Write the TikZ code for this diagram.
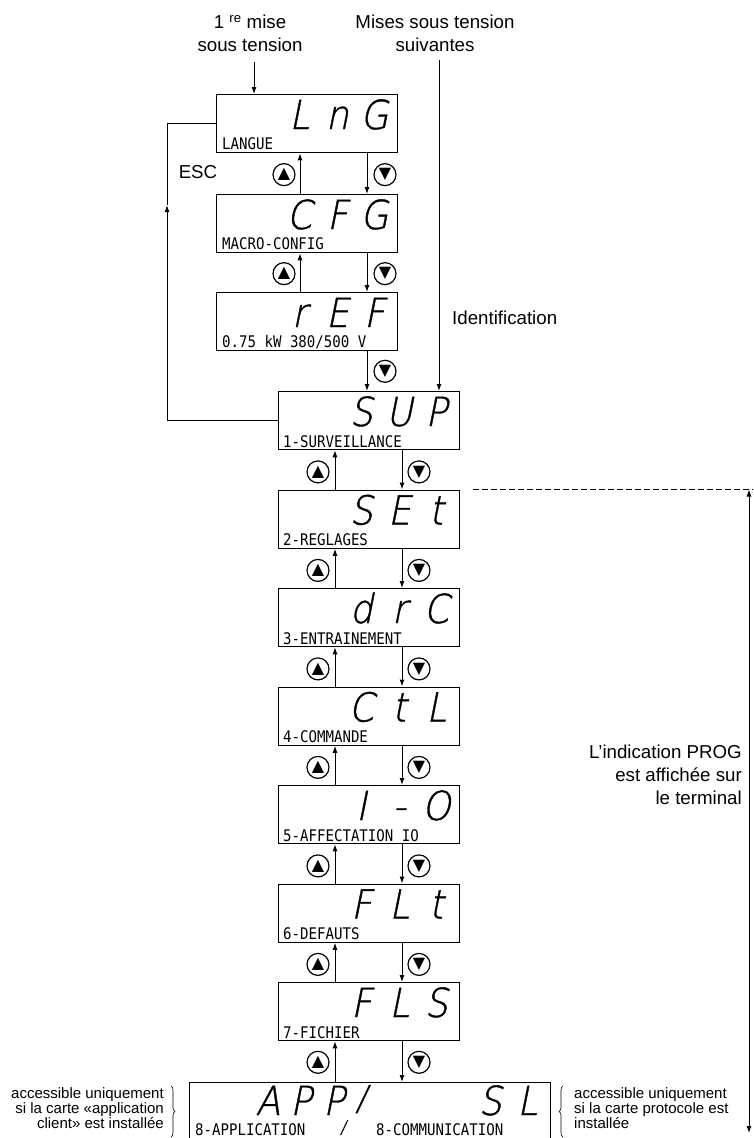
\documentclass[tikz,border=0pt]{standalone}
\usepackage{fontspec}
\setmainfont{Liberation Sans}
\newfontfamily\lcdfont[FakeStretch=0.88]{DejaVu Sans Mono}
\IfFontExistsTF{DejaVu Sans ExtraLight}
  {\newfontfamily\segfont[FakeSlant=0.2,FakeStretch=0.9,FakeBold=1]{DejaVu Sans ExtraLight}}
  {\newfontfamily\segfont[FakeSlant=0.2,FakeStretch=0.9]{DejaVu Sans}}
\newfontfamily\symfont{DejaVu Sans}
\usetikzlibrary{arrows.meta,calc,decorations.pathreplacing}

\tikzset{
  lcd/.style={draw,line width=1.3pt,minimum width=181pt,minimum height=58pt,inner sep=0pt,anchor=north west},
  lcdlabel/.style={anchor=base west,inner sep=0pt,font=\lcdfont\fontsize{16}{16}\selectfont},
  seg/.style={anchor=base,inner sep=0pt,font=\segfont\fontsize{40}{40}\selectfont},
  btn/.style={circle,draw,line width=1.2pt,minimum size=22pt,inner sep=0pt,font=\symfont\fontsize{16}{16}\selectfont},
  arr/.style={line width=1pt,-{Latex[length=7pt,width=5pt]}},
  lbl/.style={font=\fontsize{18.7}{23}\selectfont,align=center,inner sep=0pt},
  note/.style={font=\fontsize{15}{15}\selectfont,inner sep=0pt},
}

\begin{document}
\begin{tikzpicture}[x=1pt,y=-1pt]
  \useasboundingbox (0,0) rectangle (753,1138);

  % titles
  \node[lbl] (first) at (250,33.5) {1 \textsuperscript{re} mise\\sous tension};
  \node[lbl] (next) at (435,33.5) {Mises sous tension\\suivantes};

  % configuration menus
  \foreach \nm/\yy/\ga/\gb/\gc/\txt in {
      lng/94/L/n/G/LANGUE,
      cfg/194/C/F/G/MACRO-CONFIG,
      ref/292/r/E/F/{0.75 kW 380/500 V}}{
    \node[lcd] (\nm) at (216,\yy) {};
    \node[lcdlabel] at ($(\nm.south west)+(6,-4)$) {\txt};
    \node[seg] at ($(\nm.north east)+(-99,35)$) {\ga};
    \node[seg] at ($(\nm.north east)+(-61,35)$) {\gb};
    \node[seg] at ($(\nm.north east)+(-24,35)$) {\gc};
  }
  \foreach \up/\dn in {lng/cfg, cfg/ref}{
    \draw[arr] ($(\dn.north west)+(84,0)$) -- ($(\up.south west)+(84,0)$);
    \draw[arr] ($(\up.south west)+(151,0)$) -- ($(\dn.north west)+(151,0)$);
    \node[btn] at ($(\up.south west)!.5!(\dn.north west)+(68,1)$) {▲};
    \node[btn] at ($(\up.south west)!.5!(\dn.north west)+(169,1)$) {▼};
  }

  % main menus
  \foreach \nm/\yy/\ga/\gb/\gc/\txt in {
      sup/391/S/U/P/1-SURVEILLANCE,
      set/489.5/S/E/t/2-REGLAGES,
      drc/588/d/r/C/3-ENTRAINEMENT,
      ctl/686.5/C/t/L/4-COMMANDE,
      io/785/I/-/O/5-AFFECTATION IO,
      flt/883.5/F/L/t/6-DEFAUTS,
      fls/982/F/L/S/7-FICHIER}{
    \node[lcd] (\nm) at (278,\yy) {};
    \node[lcdlabel] at ($(\nm.south west)+(5,-3)$) {\txt};
    \node[seg] at ($(\nm.north east)+(-99,35)$) {\ga};
    \node[seg] at ($(\nm.north east)+(-61,35)$) {\gb};
    \node[seg] at ($(\nm.north east)+(-24,35)$) {\gc};
  }
  \foreach \up/\dn in {sup/set, set/drc, drc/ctl, ctl/io, io/flt, flt/fls}{
    \draw[arr] ($(\dn.north west)+(57,0)$) -- ($(\up.south west)+(57,0)$);
    \draw[arr] ($(\up.south west)+(124,0)$) -- ($(\dn.north west)+(124,0)$);
    \node[btn] at ($(\up.south west)!.5!(\dn.north west)+(40,2)$) {▲};
    \node[btn] at ($(\up.south west)!.5!(\dn.north west)+(141,2)$) {▼};
  }

  % application / communication
  \node[lcd,minimum width=361pt] (app) at (189,1082) {};
  \node[lcdlabel] at ($(app.south west)+(6,-6)$) {8-APPLICATION};
  \node[lcdlabel] at ($(app.south west)+(187,-6)$) {8-COMMUNICATION};
  \node[seg,font=\segfont\fontsize{18}{18}\selectfont] (slash) at ($(app.south west)+(154,-8)$) {/};
  \foreach \g/\dx in {A/79, P/112, P/145}
    \node[seg] at ($(app.north west)+(\dx,33)$) {\g};
  \node[seg,font=\segfont\fontsize{34}{34}\selectfont] (bigslash) at ($(app.north west)+(172,28)$) {/};
  \node[seg] at ($(app.north east)+(-61,33)$) {S};
  \node[seg] at ($(app.north east)+(-24,33)$) {L};
  \coordinate (flsU) at ($(fls.south west)+(57,0)$);
  \coordinate (flsD) at ($(fls.south west)+(124,0)$);
  \draw[arr] (flsU |- app.north) -- (flsU);
  \draw[arr] (flsD) -- (flsD |- app.north);
  \node[btn] at ($(flsU)+(-17,21)$) {▲};
  \node[btn] at ($(flsD)+(17,21)$) {▼};

  % entry arrows
  \coordinate (firstA) at (254,62);
  \coordinate (nextA) at (439,60);
  \draw[arr] (firstA) -- (firstA |- lng.north);
  \draw[arr] (nextA) -- (nextA |- sup.north);
  \node[lbl,anchor=west] (ident) at (452,318) {Identification};
  \coordinate (refD) at ($(ref.south west)+(151,0)$);
  \draw[arr] (refD) -- (refD |- sup.north);
  \node[btn] at ($(refD)+(18,20)$) {▼};

  % ESC loop
  \coordinate (escL) at (167,205);
  \draw[line width=1pt] (sup.west) -- (escL |- sup.west);
  \draw[arr] (escL |- sup.west) -- (escL);
  \draw[line width=1pt] (escL) -- (escL |- lng.west) -- (lng.west);
  \node[lbl] (esc) at (198,172) {ESC};

  % PROG range
  \coordinate (dashL) at (473,489.5);
  \coordinate (dashR) at (753,489.5);
  \coordinate (progB) at (749,1133);
  \draw[line width=0.8pt,dash pattern=on 6pt off 3pt] (dashL) -- (dashR);
  \draw[line width=1pt,{Latex[length=7pt,width=5pt]}-{Latex[length=7pt,width=5pt]}] (progB |- dashL) -- (progB);
  \node[lbl,align=right,anchor=east] (prog) at (742,775) {L’indication PROG\\est affichée sur\\le terminal};

  % notes
  \node[note,align=right,anchor=east] (noteL) at (164,1108) {accessible uniquement\\si la carte «application\\client» est installée};
  \node[note,align=left,anchor=west] (noteR) at (574,1108) {accessible uniquement\\si la carte protocole est\\installée};
  \draw[line width=0.6pt,decorate,decoration={brace,amplitude=4pt}] (171,1086) -- (171,1137);
  \draw[line width=0.6pt,decorate,decoration={brace,amplitude=4pt}] (563,1137) -- (563,1086);
\end{tikzpicture}
\end{document}
